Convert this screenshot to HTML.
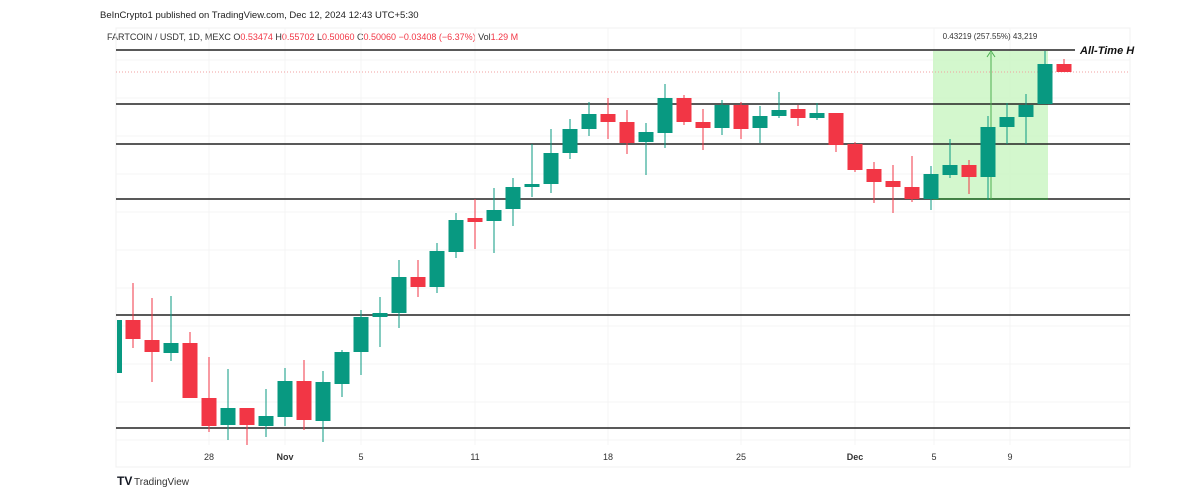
<!DOCTYPE html>
<html><head><meta charset="utf-8"><style>
body{margin:0;background:#fff;width:1200px;height:494px;overflow:hidden;font-family:"Liberation Sans",sans-serif}
</style></head><body>
<svg id="s" width="1200" height="494" xmlns="http://www.w3.org/2000/svg" font-family="Liberation Sans, sans-serif">
<rect width="1200" height="494" fill="#fff"/>
<text x="100" y="18" font-size="9.5" fill="#222">BeInCrypto1 published on TradingView.com, Dec 12, 2024 12:43 UTC+5:30</text>
<text x="107" y="40" font-size="9" fill="#333">FARTCOIN / USDT, 1D, MEXC <tspan>O</tspan><tspan fill="#f23645">0.53474</tspan> H<tspan fill="#f23645">0.55702</tspan> L<tspan fill="#f23645">0.50060</tspan> C<tspan fill="#f23645">0.50060 −0.03408 (−6.37%)</tspan> Vol<tspan fill="#f23645">1.29 M</tspan></text>
<rect x="116" y="28" width="1014" height="439" fill="none" stroke="#f0f0f0"/>
<g id="grid" stroke="#f4f4f4" stroke-width="1"></g>
<rect x="933" y="51" width="115" height="148" fill="#c8f5c0" opacity="0.8"/>
<line x1="116" y1="72" x2="1130" y2="72" stroke="#f0a0a0" stroke-dasharray="1,2"/>
<g stroke="#222" stroke-width="1.5">
<line x1="116" y1="50" x2="1075" y2="50"/>
<line x1="116" y1="104" x2="1130" y2="104"/>
<line x1="116" y1="144" x2="1130" y2="144"/>
<line x1="116" y1="199" x2="1130" y2="199"/>
<line x1="116" y1="315" x2="1130" y2="315"/>
<line x1="116" y1="428" x2="1130" y2="428"/>
</g>
<line x1="933" y1="199" x2="1048" y2="199" stroke="#2e7d32" stroke-width="1.5"/>
<line x1="991" y1="199" x2="991" y2="53" stroke="#4caf50" stroke-width="1"/>
<path d="M987,57 L991,51 L995,57" fill="none" stroke="#4caf50"/>
<text x="990" y="39" font-size="8" fill="#333" text-anchor="middle">0.43219 (257.55%) 43,219</text>
<text x="1080" y="54" font-size="11" font-weight="bold" font-style="italic" fill="#111">All-Time H</text>
<g id="c"></g>
<g font-size="9" fill="#333" text-anchor="middle">
<text x="209" y="460">28</text><text x="285" y="460" font-weight="bold">Nov</text><text x="361" y="460">5</text><text x="475" y="460">11</text><text x="608" y="460">18</text><text x="741" y="460">25</text><text x="855" y="460" font-weight="bold">Dec</text><text x="934" y="460">5</text><text x="1010" y="460">9</text>
</g>
<text x="117" y="485" font-size="12" font-weight="bold" fill="#131722">TV</text>
<text x="134" y="485" font-size="10" fill="#333">TradingView</text>
</svg>
<script>
var d=[[114,320,373,320,373,'g'],[133,320,339,283,348,'r'],[152,340,352,298,382,'r'],[171,343,353,296,361,'g'],[190,343,398,332,398,'r'],[209,398,426,357,432,'r'],[228,408,425,369,440,'g'],[247,408,425,408,445,'r'],[266,416,426,389,437,'g'],[285,381,417,368,426,'g'],[304,381,420,360,430,'r'],[323,382,421,371,442,'g'],[342,352,384,350,397,'g'],[361,317,352,310,375,'g'],[380,313,317,297,347,'g'],[399,277,313,260,328,'g'],[418,277,287,260,297,'r'],[437,251,287,243,293,'g'],[456,220,252,213,258,'g'],[475,218,222,199,249,'r'],[494,210,221,188,253,'g'],[513,187,209,178,226,'g'],[532,184,187,144,197,'g'],[551,153,184,129,193,'g'],[570,129,153,119,159,'g'],[589,114,129,102,136,'g'],[608,114,122,98,139,'r'],[627,122,143,110,154,'r'],[646,132,142,123,175,'g'],[665,98,133,84,148,'g'],[684,98,122,95,125,'r'],[703,122,128,109,150,'r'],[722,105,128,100,135,'g'],[741,105,129,102,139,'r'],[760,116,128,106,143,'g'],[779,110,116,92,118,'g'],[798,109,118,105,126,'r'],[817,113,118,103,120,'g'],[836,113,145,113,152,'r'],[855,144,170,142,172,'r'],[874,169,182,162,203,'r'],[893,181,187,165,213,'r'],[912,187,199,156,202,'r'],[931,174,199,166,210,'g'],[950,165,175,139,178,'g'],[969,165,177,160,194,'r'],[988,127,177,116,200,'g'],[1007,117,127,103,144,'g'],[1026,105,117,94,144,'g'],[1045,64,104,51,104,'g'],[1064,64,72,59,72,'r']];
d[0][0]=119-7.5+3;
var ns='http://www.w3.org/2000/svg',g=document.getElementById('c'),gr=document.getElementById('grid');
function el(p,t,a){var e=document.createElementNS(ns,t);for(var k in a)e.setAttribute(k,a[k]);p.appendChild(e);}
[209,285,361,475,608,741,855,934,1010].forEach(function(x){el(gr,'line',{x1:x,y1:28,x2:x,y2:445});});
for(var y=60;y<445;y+=38)el(gr,'line',{x1:116,y1:y,x2:1130,y2:y});
d.forEach(function(c,i){var col=c[5]=='g'?'#089981':'#f23645';var x=c[0];
if(i==0){el(g,'rect',{x:117,y:c[1],width:5,height:c[2]-c[1],fill:col});return;}
el(g,'line',{x1:x,y1:c[3],x2:x,y2:c[4],stroke:col,'stroke-width':1});
var x0=Math.max(x-7.5,116);el(g,'rect',{x:x0,y:c[1],width:x+7.5-x0,height:Math.max(c[2]-c[1],2),fill:col});});
</script>
</body></html>
